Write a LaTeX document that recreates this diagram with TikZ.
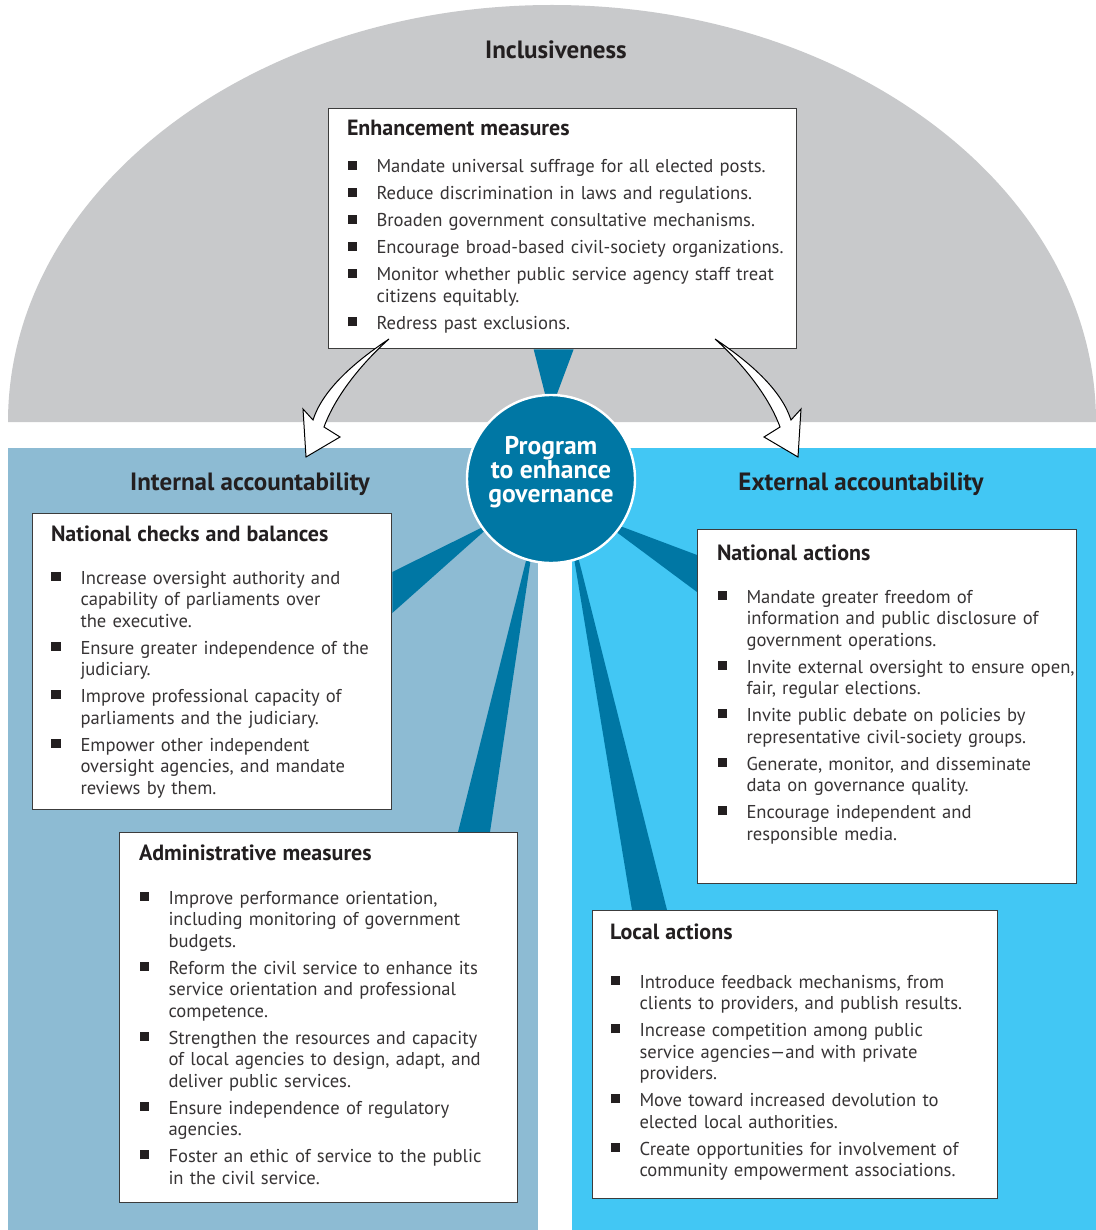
\documentclass[tikz,border=0pt]{standalone}
\usepackage{fontspec}
\setmainfont{PT Sans}
\usetikzlibrary{positioning}

\definecolor{inclgray}{RGB}{200,201,203}
\definecolor{intblue}{RGB}{141,187,211}
\definecolor{extblue}{RGB}{66,199,244}
\definecolor{progblue}{RGB}{0,119,164}
\definecolor{boxline}{RGB}{60,60,60}
\definecolor{txt}{RGB}{35,31,32}
\definecolor{bodytxt}{RGB}{55,52,53}

\pgfdeclarelayer{back}
\pgfdeclarelayer{wedges}
\pgfsetlayers{back,wedges,main}

\newcommand{\bodyfont}{\fontsize{9.3}{10.75}\selectfont}
\newcommand{\sqbul}{\textcolor{txt}{\rule[1.6pt]{4.6pt}{4.6pt}}}
\newcommand{\itm}{\par\vspace{2.75pt}\hangindent=14.75pt\hangafter=0\noindent\llap{\sqbul\hspace{9.9pt}}}
\newcommand{\boxtitle}[1]{\noindent\rule{0pt}{8pt}\textcolor{txt}{\fontsize{11}{12}\selectfont\bfseries #1}\par}

\begin{document}
\begin{tikzpicture}[x=0.5pt,y=-0.5pt,
	measbox/.style={draw=boxline,fill=white,line width=0.65pt,anchor=north west,inner sep=0pt},
	itemtext/.style={inner sep=0pt,outer sep=0pt,text width=#1,font=\bodyfont,text=bodytxt},
	header/.style={font=\fontsize{12.5}{14}\selectfont\bfseries,text=txt},
	progcircle/.style={circle,fill=progblue,draw=white,line width=1.2pt,minimum size=84pt,inner sep=0pt},
	progtext/.style={align=center,text=white,font=\fontsize{12.8}{12}\selectfont\bfseries,inner sep=0pt},
	wedge/.style={fill=progblue},
	bigarrow/.style={fill=white,draw=black,line width=0.5pt,line join=miter}]
	
	\useasboundingbox (0,0) rectangle (1096,1230);
	
	% background areas
	\begin{pgfonlayer}{back}
	\fill[white] (0,0) rectangle (1096,1230);
	\fill[inclgray] (8,422) arc[start angle=180,end angle=360,x radius=544,y radius=417] -- cycle;
	\fill[intblue] (8,448) rectangle (538,1230);
	\fill[extblue] (572,448) rectangle (1096,1230);
	\end{pgfonlayer}
	
	\node[header] (incl) at (556,50) {Inclusiveness};
	\node[header] (intacc) at (250,484) {Internal accountability};
	\node[header] (extacc) at (861,484) {External accountability};
	
	% boxes
	\node[measbox,minimum width=234pt,minimum height=120pt] (enh) at (328,108) {};
	\node[measbox,minimum width=179.5pt,minimum height=148pt] (nc) at (32,513) {};
	\node[measbox,minimum width=199pt,minimum height=185pt] (adm) at (119,832) {};
	\node[measbox,minimum width=189.5pt,minimum height=177pt] (na) at (697,529) {};
	\node[measbox,minimum width=202.5pt,minimum height=144pt] (loc) at (592,910) {};
	
	\node[progcircle] (prog) at (551,479) {};
	\node[progtext,yshift=3.5pt] (progtxt) at (prog) {Program\\to enhance\\governance};
	
	% wedges to the boxes
	\begin{pgfonlayer}{wedges}
	\fill[wedge] ([xshift=-14.5pt]enh.south) -- ([xshift=5.5pt]enh.south) -- (prog.86) -- (prog.94) -- cycle;
	\fill[wedge] ([yshift=-29.5pt]nc.north east) -- ([yshift=-50pt]nc.north east) -- (prog.218) -- (prog.215) -- cycle;
	\fill[wedge] ([xshift=169.5pt]adm.north west) -- ([xshift=185.5pt]adm.north west) -- (prog.256.5) -- (prog.253.5) -- cycle;
	\fill[wedge] ([yshift=-13pt]na.north west) -- ([yshift=-31.5pt]na.north west) -- (prog.321) -- (prog.326) -- cycle;
	\fill[wedge] ([xshift=20pt]loc.north west) -- ([xshift=37.5pt]loc.north west) -- (prog.289.5) -- (prog.286.5) -- cycle;
	\end{pgfonlayer}
	
	% box texts
	\node[itemtext=240pt,below right=6pt and 9.5pt of enh.north west] (enhtxt) {%
		\boxtitle{Enhancement measures}\vspace{5pt}
		\itm Mandate universal suffrage for all elected posts.
		\itm Reduce discrimination in laws and regulations.
		\itm Broaden government consultative mechanisms.
		\itm Encourage broad-based civil-society organizations.
		\itm Monitor whether public service agency staff treat\newline citizens equitably.
		\itm Redress past exclusions.\par};
	
	\node[itemtext=190pt,below right=6pt and 9.5pt of nc.north west] (nctxt) {%
		\boxtitle{National checks and balances}\vspace{8pt}
		\itm Increase oversight authority and\newline capability of parliaments over\newline the executive.
		\itm Ensure greater independence of the\newline judiciary.
		\itm Improve professional capacity of\newline parliaments and the judiciary.
		\itm Empower other independent\newline oversight agencies, and mandate\newline reviews by them.\par};
	
	\node[itemtext=210pt,below right=6pt and 10pt of adm.north west] (admtxt) {%
		\boxtitle{Administrative measures}\vspace{8.5pt}
		\itm Improve performance orientation,\newline including monitoring of government\newline budgets.
		\itm Reform the civil service to enhance its\newline service orientation and professional\newline competence.
		\itm Strengthen the resources and capacity\newline of local agencies to design, adapt, and\newline deliver public services.
		\itm Ensure independence of regulatory\newline agencies.
		\itm Foster an ethic of service to the public\newline in the civil service.\par};
	
	\node[itemtext=200pt,below right=7.5pt and 10pt of na.north west] (natxt) {%
		\boxtitle{National actions}\vspace{8pt}
		\itm Mandate greater freedom of\newline information and public disclosure of\newline government operations.
		\itm Invite external oversight to ensure open,\newline fair, regular elections.
		\itm Invite public debate on policies by\newline representative civil-society groups.
		\itm Generate, monitor, and disseminate\newline data on governance quality.
		\itm Encourage independent and\newline responsible media.\par};
	
	\node[itemtext=210pt,below right=6.5pt and 9pt of loc.north west] (loctxt) {%
		\boxtitle{Local actions}\vspace{11pt}
		\itm Introduce feedback mechanisms, from\newline clients to providers, and publish results.
		\itm Increase competition among public\newline service agencies---and with private\newline providers.
		\itm Move toward increased devolution to\newline elected local authorities.
		\itm Create opportunities for involvement of\newline community empowerment associations.\par};
	
	% curved arrows from the enhancement measures
	\draw[bigarrow] (389,339) .. controls (350,365) and (322,392) .. (313,420) -- (303,409) -- (306,457)
		-- (340,437) -- (324,427) .. controls (335,397) and (360,365) .. (389,339) -- cycle;
	\draw[bigarrow] (715,339) .. controls (754,365) and (782,392) .. (791,420) -- (801,409) -- (798,457)
		-- (764,437) -- (780,427) .. controls (769,397) and (744,365) .. (715,339) -- cycle;
\end{tikzpicture}
\end{document}
